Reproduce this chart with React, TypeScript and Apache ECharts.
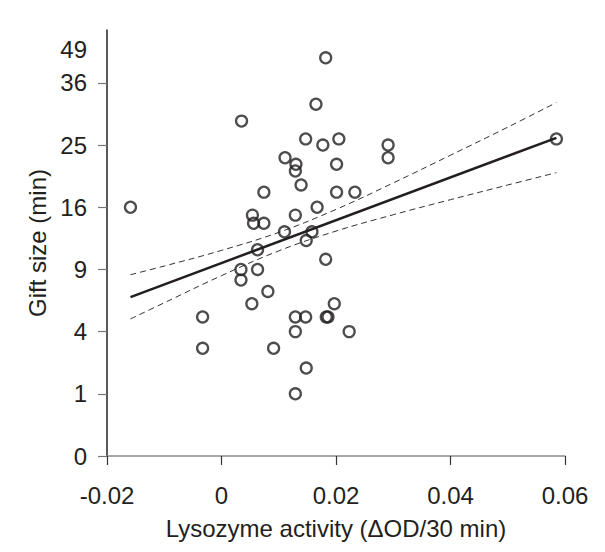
import React, { useEffect, useRef } from "react";
import * as echarts from "echarts";

// Scatter data: lysozyme activity (ΔOD/30 min) vs gift size (min)
const activity = [
  -0.0159, 0.0035, 0.0182, 0.0165, 0.0147, 0.0177, 0.0205, 0.0111, 0.013, 0.0129,
  0.0201, 0.0139, 0.0074, 0.0201, 0.0233, 0.0167, 0.0291, 0.0291, 0.0585, 0.0054,
  0.0056, 0.0074, 0.0129, 0.011, 0.0158, 0.0148, 0.0063, 0.0182, 0.0034, 0.0063,
  0.0034, 0.0081, 0.0053, 0.0197, -0.0033, -0.0033, 0.0129, 0.0147, 0.0183, 0.0186,
  0.0129, 0.0223, 0.0091, 0.0148, 0.0129,
];
const giftSize = [
  16, 29, 41, 32, 26, 25, 26, 23, 22, 21,
  22, 19, 18, 18, 18, 16, 25, 23, 26, 15,
  14, 14, 15, 13, 13, 12, 11, 10, 9, 9,
  8, 7, 6, 6, 5, 3, 5, 5, 5, 5,
  4, 4, 3, 2, 1,
];

// Regression line (fitted on square-root scale)
const fitX = [-0.0159, 0.0585];
const fitY = [6.53, 26.17];

// Confidence band
const bandX = [-0.0159, -0.01, 0, 0.01, 0.02, 0.03, 0.04, 0.05, 0.0585];
const bandUpper = [8.5, 9.33, 10.93, 12.93, 15.72, 19.28, 23.39, 27.96, 32.3];
const bandLower = [4.86, 6.07, 8.41, 10.88, 13.08, 15.05, 16.99, 18.99, 20.76];

// Axis tick labels
const yTickLabels = [0, 1, 4, 9, 16, 25, 36, 49];
const xTicks = [-0.02, 0, 0.02, 0.04, 0.06];

const Y_AXIS_MAX = 6.85; // sqrt units
const Y_TOP_LABEL_POS = 6.54; // where the "49" label is printed

const TEXT = "#231f20";
const FONT = "'Liberation Sans', Arial, sans-serif";

const sq = (v: number) => Math.sqrt(v);
const yLabelPos = (v: number) => Math.min(sq(v), Y_TOP_LABEL_POS);

export default function App() {
  const ref = useRef<HTMLDivElement>(null);

  useEffect(() => {
    document.body.style.margin = "0";
    if (!ref.current) return;
    const chart = echarts.init(ref.current, undefined, { renderer: "svg" });

    const labelPositions = yTickLabels.map(yLabelPos);
    const tickPositions = yTickLabels.filter((v) => sq(v) <= Y_TOP_LABEL_POS).map(sq);

    chart.setOption({
      animation: false,
      backgroundColor: "#ffffff",
      textStyle: { fontFamily: FONT },
      grid: { left: 107, right: 40, top: 30, bottom: 96, containLabel: false },
      xAxis: {
        type: "value",
        min: xTicks[0],
        max: xTicks[xTicks.length - 1],
        interval: 0.02,
        name: "Lysozyme activity (ΔOD/30 min)",
        nameLocation: "middle",
        nameGap: 60,
        nameTextStyle: { color: TEXT, fontSize: 24, fontFamily: FONT },
        axisLine: { onZero: false, lineStyle: { color: "#8a8a8a", width: 1.5 } },
        axisTick: { show: true, length: 9, lineStyle: { color: "#333", width: 1.2 } },
        axisLabel: {
          color: TEXT,
          fontSize: 24,
          fontFamily: FONT,
          margin: 27,
          formatter: (v: number) => String(Math.round(v * 100) / 100),
        },
        splitLine: { show: false },
      },
      yAxis: {
        type: "value",
        min: 0,
        max: Y_AXIS_MAX,
        name: "Gift size (min)",
        nameLocation: "middle",
        nameGap: 58,
        nameTextStyle: { color: TEXT, fontSize: 24, fontFamily: FONT },
        axisLine: { onZero: false, lineStyle: { color: "#222", width: 1.5 } },
        axisTick: {
          show: true,
          length: 9,
          customValues: tickPositions,
          lineStyle: { color: "#777", width: 1.2 },
        },
        axisLabel: {
          color: TEXT,
          fontSize: 24,
          fontFamily: FONT,
          margin: 20,
          customValues: labelPositions,
          formatter: (v: number) => {
            const i = labelPositions.findIndex((p) => Math.abs(p - v) < 1e-6);
            return i >= 0 ? String(yTickLabels[i]) : "";
          },
        },
        splitLine: { show: false },
      },
      series: [
        {
          type: "line",
          data: bandX.map((x, i) => [x, sq(bandUpper[i])]),
          smooth: 0.4,
          symbol: "none",
          lineStyle: { color: "#333", width: 1, type: [6, 4] },
          z: 2,
        },
        {
          type: "line",
          data: bandX.map((x, i) => [x, sq(bandLower[i])]),
          smooth: 0.4,
          symbol: "none",
          lineStyle: { color: "#333", width: 1, type: [6, 4] },
          z: 2,
        },
        {
          type: "line",
          data: fitX.map((x, i) => [x, sq(fitY[i])]),
          symbol: "none",
          lineStyle: { color: TEXT, width: 2.5 },
          z: 3,
        },
        {
          type: "scatter",
          data: activity.map((x, i) => [x, sq(giftSize[i])]),
          symbol: "circle",
          symbolSize: 11,
          itemStyle: { color: "rgba(255,255,255,0)", borderColor: TEXT, borderWidth: 2.3 },
          z: 4,
        },
      ],
    });

    return () => chart.dispose();
  }, []);

  return <div ref={ref} style={{ width: 605, height: 552 }} />;
}
